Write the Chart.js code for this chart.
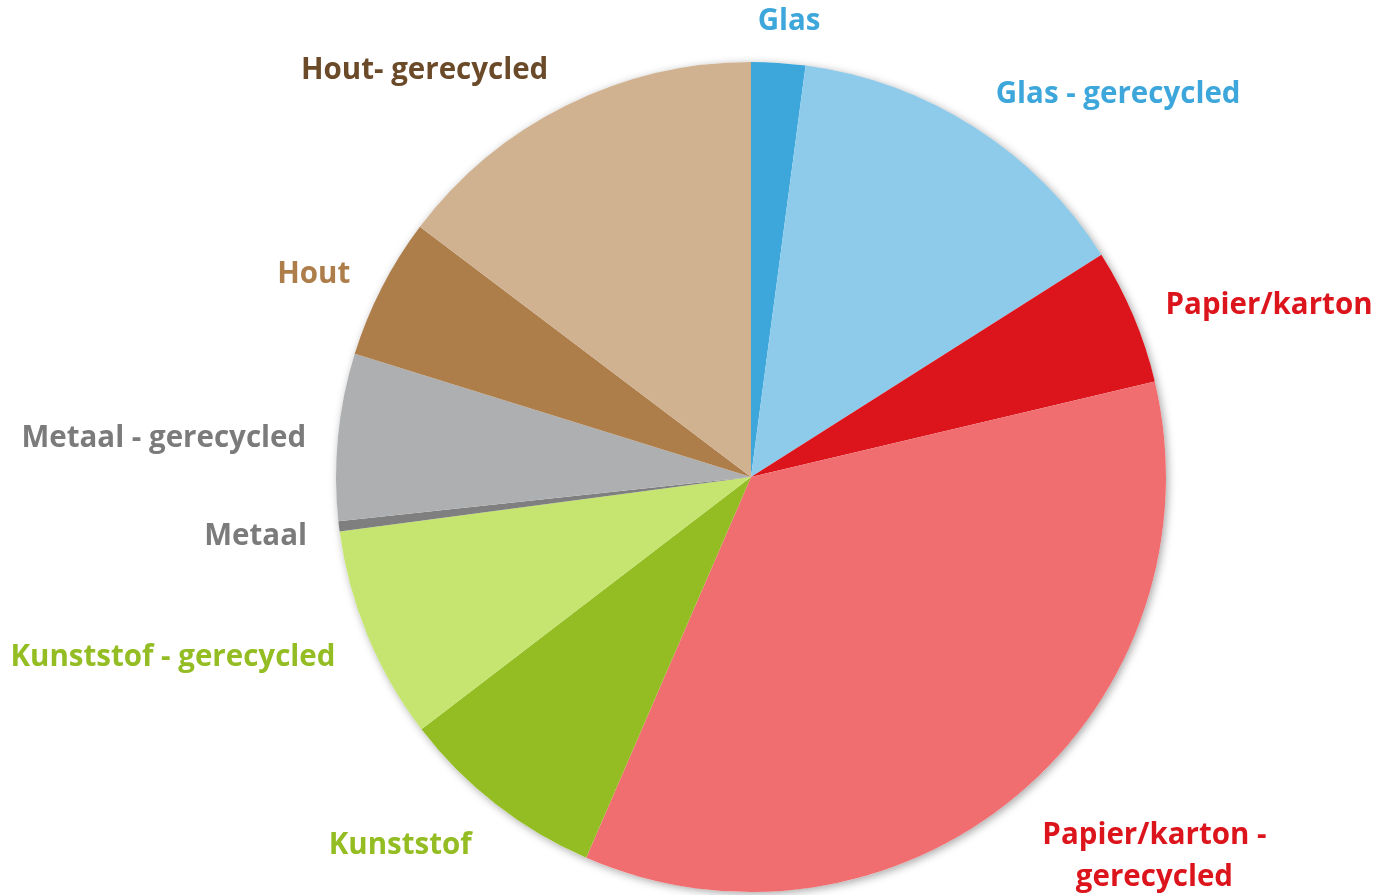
<!DOCTYPE html>
<html lang="nl">
<head>
  <meta charset="UTF-8">
  <title>Afval per materiaal</title>
  <script src="https://cdn.jsdelivr.net/npm/chart.js"></script>
  <style>
    html, body { margin: 0; padding: 0; background: #ffffff; }
    #wrap { width: 1373px; height: 895px; }
  </style>
</head>
<body>
<div id="wrap"><canvas id="pieChart"></canvas></div>
<script>
  // percentages, clockwise from 12 o'clock
  const labels = ['Glas', 'Glas - gerecycled', 'Papier/karton', 'Papier/karton - gerecycled',
    'Kunststof', 'Kunststof - gerecycled', 'Metaal', 'Metaal - gerecycled', 'Hout', 'Hout- gerecycled'];
  const values = [2.1, 13.9, 5.3, 35.2, 8.1, 8.3, 0.4, 6.5, 5.5, 14.7];
  const sliceColors = ['#3DA7DB', '#8ECAEA', '#DC151C', '#F06E70', '#93BD22',
    '#C5E570', '#7F7F7F', '#AEAFB0', '#AD7E4A', '#D0B190'];
  const labelColors = ['#3DA7DB', '#3DA7DB', '#DC151C', '#DC151C', '#93BD22',
    '#93BD22', '#7B7B7B', '#7B7B7B', '#AD7E4A', '#6B4A2A'];
  const labelLines = [['Glas'], ['Glas - gerecycled'], ['Papier/karton'], ['Papier/karton -', 'gerecycled'],
    ['Kunststof'], ['Kunststof - gerecycled'], ['Metaal'], ['Metaal - gerecycled'], ['Hout'], ['Hout- gerecycled']];

  const FONT = 'bold 29.5px "Open Sans", sans-serif';

  // soft shadow behind the whole pie
  const pieShadow = {
    id: 'pieShadow',
    beforeDatasetsDraw(chart) {
      const arc = chart.getDatasetMeta(0).data[0];
      if (!arc) return;
      const ctx = chart.ctx;
      ctx.save();
      ctx.shadowColor = 'rgba(0,0,0,0.35)';
      ctx.shadowBlur = 9;
      ctx.shadowOffsetX = 2;
      ctx.shadowOffsetY = 2;
      ctx.fillStyle = '#ffffff';
      ctx.beginPath();
      ctx.arc(arc.x, arc.y, arc.outerRadius, 0, Math.PI * 2);
      ctx.fill();
      ctx.restore();
    }
  };

  // category labels outside the pie, anchored at each slice's mid angle
  const outsideLabels = {
    id: 'outsideLabels',
    afterDatasetsDraw(chart) {
      const ctx = chart.ctx;
      const meta = chart.getDatasetMeta(0);
      ctx.save();
      ctx.font = FONT;
      ctx.textBaseline = 'middle';
      meta.data.forEach((arc, i) => {
        const mid = (arc.startAngle + arc.endAngle) / 2;
        const dx = Math.cos(mid);
        const dy = Math.sin(mid);
        const r = arc.outerRadius + 31 + 10 * Math.abs(dy);
        const ax = arc.x + dx * r;
        const ay = arc.y + dy * r + 6 + 6 * dy;
        const lines = labelLines[i];
        const w = Math.max(...lines.map(l => ctx.measureText(l).width));
        let left;
        if (dx > 0.2) left = ax;
        else if (dx < -0.2) left = ax - w;
        else left = ax - w / 2 + 8;
        ctx.fillStyle = labelColors[i];
        lines.forEach((line, k) => {
          const lw = ctx.measureText(line).width;
          ctx.fillText(line, left + (w - lw) / 2, ay + k * 42);
        });
      });
      ctx.restore();
    }
  };

  new Chart(document.getElementById('pieChart'), {
    type: 'pie',
    data: {
      labels: labels,
      datasets: [{
        data: values,
        backgroundColor: sliceColors,
        borderWidth: 0
      }]
    },
    options: {
      responsive: true,
      maintainAspectRatio: false,
      animation: false,
      layout: { padding: { top: 62, bottom: 3, left: 336, right: 207 } },
      plugins: {
        legend: { display: false },
        tooltip: { enabled: false }
      }
    },
    plugins: [pieShadow, outsideLabels]
  });
</script>
</body>
</html>
